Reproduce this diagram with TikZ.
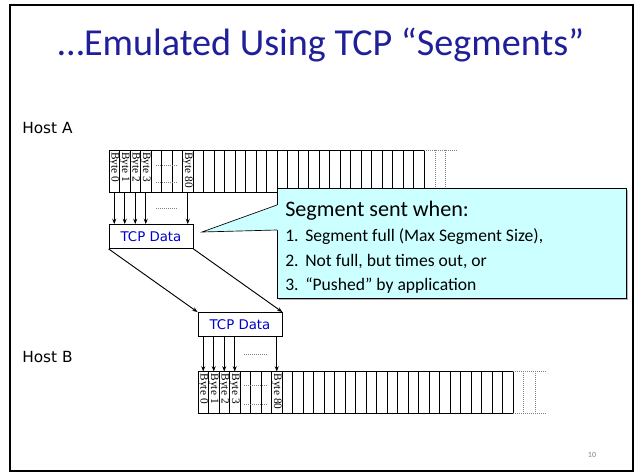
\documentclass[tikz,border=0pt]{standalone}
\usepackage{fontspec}
\setmainfont{Carlito}
\newfontfamily\handfont{DejaVu Sans}
\newfontfamily\bytefont{Liberation Serif}
\usetikzlibrary{arrows.meta,positioning,shadows}
\definecolor{titleblue}{RGB}{31,31,153}
\definecolor{datablue}{RGB}{0,0,204}
\definecolor{calloutcyan}{RGB}{204,255,255}

\begin{document}
\begin{tikzpicture}[
    x=0.75pt,y=-0.75pt,
    cell/.style={draw,line width=0.5pt,minimum width=7.875pt,minimum height=31.5pt,
                 inner sep=0pt,outer sep=0pt},
    bytelbl/.style={rotate=-90,anchor=west,inner sep=1.5pt,
                    font=\bytefont\fontsize{8.5}{9}\selectfont},
    databox/.style={draw,fill=white,line width=0.6pt,minimum width=63pt,minimum height=18pt,
                    inner sep=0pt,text=datablue,font=\handfont\fontsize{10}{12}\selectfont},
    host/.style={anchor=base west,inner sep=0pt,font=\handfont\fontsize{11.5}{13}\selectfont},
    callbox/.style={draw,line width=0.5pt,fill=calloutcyan,inner sep=0pt,
                    drop shadow={shadow xshift=1.5pt,shadow yshift=-1.5pt,opacity=0.6}},
    item/.style={anchor=base west,inner sep=0pt,font=\fontsize{13.2}{15}\selectfont},
    dots/.style={gray,densely dotted,line width=0.5pt},
    ar/.style={-{Stealth[length=4pt,width=3pt]},line width=0.7pt}
  ]
  \useasboundingbox (0,0) rectangle (640,474);
  \draw[line width=1.6pt] (10,5) rectangle (633,471);

  \node[anchor=base,inner sep=0pt,text=titleblue,font=\fontsize{28.6}{33}\selectfont] (title)
    at (321,56) {…Emulated Using TCP “Segments”};

  % host A buffer
  \node[host] (hostA) at (22,134) {Host A};
  \foreach \i in {0,...,29}
    \node[cell] (a\i) at (114.25+10.5*\i,171) {};
  \draw[dots] (a29.north east) -- ++(33,0)
    (a29.north east) ++(11,0) -- ++(0,42)
    (a29.north east) ++(21,0) -- ++(0,42);
  \foreach \i/\n in {0/0,1/1,2/2,3/3,7/80}
    \node[bytelbl] (la\i) at (a\i.north) {Byte \n};
  \draw[dots] (156,165) -- (178,165) (156,182) -- (178,182) (156,208) -- (178,208);

  \node[databox] (dataA) at (151,236.5) {TCP Data};
  \foreach \i in {0,1,2,3,7}
    \draw[ar] (a\i.south) -- (a\i.south |- dataA.north);

  % host B buffer
  \node[databox] (dataB) at (240,324.5) {TCP Data};
  \draw[ar] (dataA.south west) -- (dataB.north west);
  \draw[ar] (dataA.south east) -- (dataB.north east);

  \node[host] (hostB) at (22,363) {Host B};
  \foreach \i in {0,...,29}
    \node[cell] (b\i) at (203.25+10.5*\i,392.5) {};
  \draw[dots] (b29.north east) -- ++(33,0) (b29.south east) -- ++(33,0)
    (b29.north east) ++(10,0) -- ++(0,42)
    (b29.north east) ++(22,0) -- ++(0,42);
  \foreach \i/\n in {0/0,1/1,2/2,3/3,7/80}
    \node[bytelbl] (lb\i) at (b\i.north) {Byte \n};
  \draw[dots] (244,354) -- (268,354) (244,385) -- (268,385) (244,404) -- (268,404);
  \foreach \i in {0,1,2,3,7}
    \draw[ar] (b\i.north |- dataB.south) -- (b\i.north);

  % callout
  \node[callbox,anchor=north west,minimum width=261.75pt,minimum height=82.5pt] (callout)
    at (277,188) {};
  \coordinate (tip) at (202,232);
  \fill[calloutcyan] ([xshift=0.6pt]callout.west |- 0,205) -- (tip)
    -- ([xshift=0.6pt]callout.west |- 0,230) -- cycle;
  \draw[line width=0.5pt] (callout.west |- 0,205) -- (tip) -- (callout.west |- 0,230);

  \node[anchor=base west,inner sep=0pt,font=\fontsize{16.6}{19}\selectfont] (when)
    at (285,217) {Segment sent when:};
  \node[item] (why1) at (285,242) {\makebox[15pt][l]{1.}Segment full (Max Segment Size),};
  \node[item] (why2) at (285,267) {\makebox[15pt][l]{2.}Not full, but times out, or};
  \node[item] (why3) at (285,291) {\makebox[15pt][l]{3.}“Pushed” by application};

  \node[inner sep=0pt,text=gray,font=\fontsize{6}{7}\selectfont] (pnum) at (592,455) {10};
\end{tikzpicture}
\end{document}
